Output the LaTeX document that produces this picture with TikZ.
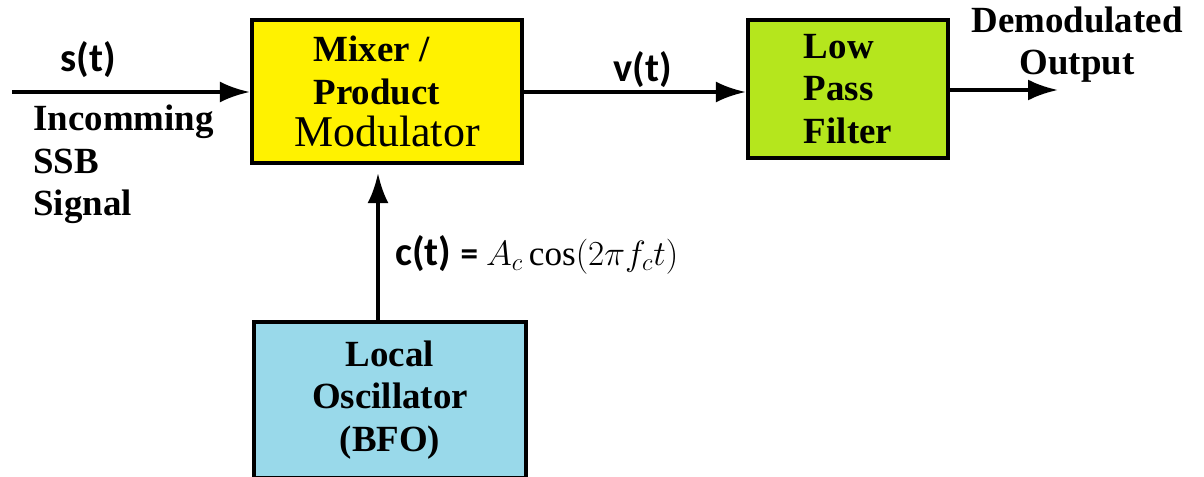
\documentclass[tikz,border=0pt]{standalone}
\usepackage{fix-cm}
\usepackage{fontspec}
\setmainfont{Liberation Serif}
\newfontfamily\sigfont{Carlito}
\usetikzlibrary{arrows.meta, positioning}
\definecolor{mixYellow}{HTML}{FFF200}
\definecolor{lpfGreen}{HTML}{B5E61D}
\definecolor{oscBlue}{HTML}{99D9EA}

\begin{document}
\begin{tikzpicture}[x=0.2mm, y=-0.2mm,
    block/.style={rectangle, draw=black, line width=2.4pt, inner sep=0pt,
                  font=\fontsize{21}{24}\selectfont\bfseries},
    wire/.style={line width=2.2pt, -{Latex[length=6mm, width=4.2mm]}},
    siglabel/.style={font=\fontsize{23}{26}\selectfont\sigfont\bfseries, inner sep=0pt},
    txtlabel/.style={font=\fontsize{21}{24}\selectfont\bfseries, inner sep=0pt},
  ]
  \useasboundingbox (0,0) rectangle (1204,477);
  \clip (0,0) rectangle (1204,477);

  % blocks
  \node[block, fill=mixYellow, minimum width=54mm, minimum height=28.6mm, align=left]
    (mixer) at (387,91.5) {\hspace*{11pt}Mixer /\\\hspace*{11pt}Product\\
      {\fontsize{25}{26}\selectfont\mdseries Modulator}};
  \node[block, fill=lpfGreen, minimum width=40mm, minimum height=27.6mm, align=left]
    (lpf) at (848,89) {Low\\Pass\\Filter};
  \node[block, fill=oscBlue, minimum width=54.4mm, minimum height=31.2mm, align=center]
    (osc) at (390,400) {Local\\Oscillator\\(BFO)};

  % free ends
  \coordinate (in) at (12,92);
  \coordinate (out) at (1058,90);

  % connectors
  \draw[wire] (in) -- (in -| mixer.west);
  \draw[wire] (mixer.east |- in) -- (in -| lpf.west);
  \draw[wire] (lpf.east |- out) -- (out);
  \draw[wire, shorten >=1.6mm] (osc.north -| 378,0) -- (mixer.south -| 378,0);

  % labels
  \node[siglabel] (st) at (88,60) {s(t)};
  \node[siglabel] (vt) at (643,70) {v(t)};
  \node[txtlabel, align=left, anchor=north west] (inlabel) at (33,105)
    {Incomming\\SSB\\Signal};
  \node[txtlabel, align=center] (outlabel) at (1077,45) {Demodulated\\Output};
  \node[siglabel, anchor=west] (ct) at (395,255)
    {c(t) {\fontsize{20}{22}\selectfont= $A_c\cos(2\pi f_c t)$}};
\end{tikzpicture}
\end{document}
